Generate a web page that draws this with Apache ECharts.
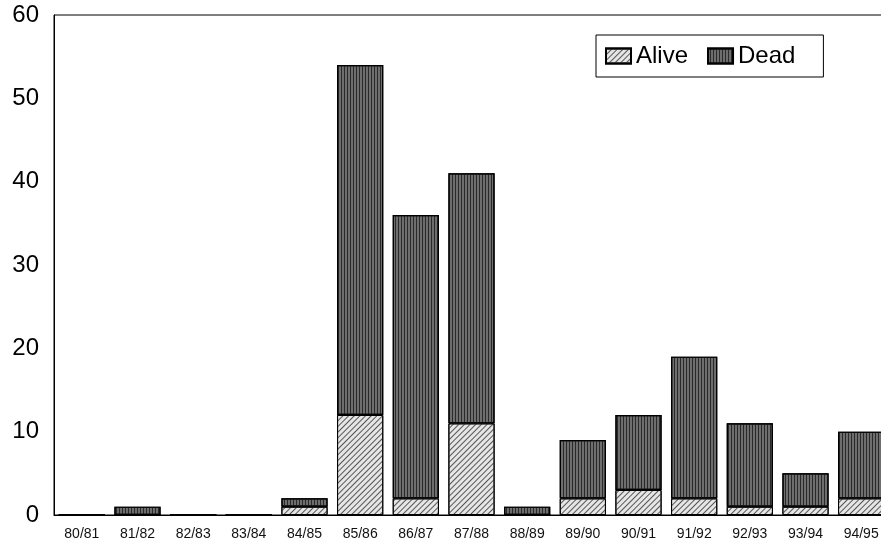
<!DOCTYPE html>
<html><head><meta charset="utf-8">
<script src="https://cdn.jsdelivr.net/npm/echarts@6/dist/echarts.min.js"></script>
<style>html,body{margin:0;padding:0;background:#fff}#c{width:881px;height:544px}</style>
</head><body><div id="c"></div>
<script>
const categories = ['80/81','81/82','82/83','83/84','84/85','85/86','86/87','87/88','88/89','89/90','90/91','91/92','92/93','93/94','94/95'];
const alive = [0,0,0,0,1,12,2,11,0,2,3,2,1,1,2];
const dead  = [0,1,0,0,1,42,34,30,1,7,9,17,10,4,8];
const yTicks = [0,10,20,30,40,50,60];

const chart = echarts.init(document.getElementById('c'));
chart.setOption({
  animation:false,
  backgroundColor:'#fff',
  grid:{left:54,top:15,width:835,height:500,show:true,borderColor:'#000',borderWidth:1,outerBoundsMode:'none',containLabel:false},
  legend:{
    left:596, top:35, padding:[9,28,9,9],
    borderColor:'#000', borderWidth:1,
    icon:'rect', itemWidth:25, itemHeight:15, itemGap:19,
    textStyle:{fontFamily:'Liberation Sans',fontSize:24,color:'#000'},
    data:['Alive','Dead']
  },
  xAxis:{type:'category',data:categories,
    axisLine:{lineStyle:{color:'#000'}},axisTick:{show:false},
    axisLabel:{fontFamily:'Liberation Sans',fontSize:14,color:'#111',margin:12,interval:0}},
  yAxis:{type:'value',min:0,max:60,interval:10,
    axisLine:{show:true,lineStyle:{color:'#000'}},axisTick:{show:false},splitLine:{show:false},
    axisLabel:{fontFamily:'Liberation Sans',fontSize:24,color:'#000',margin:15,
      formatter:v=>yTicks.includes(v)?String(v):''}},
  series:[
    {name:'Alive',type:'bar',stack:'s',data:alive,barCategoryGap:'17%',
     itemStyle:{color:'#e6e6e6',borderColor:'#000',borderWidth:1,
       decal:{symbol:'rect',symbolSize:1,dashArrayX:[1,0],dashArrayY:[1,3],rotation:-Math.PI/4,color:'#555'}}},
    {name:'Dead',type:'bar',stack:'s',data:dead,
     itemStyle:{color:'#6e6e6e',borderColor:'#000',borderWidth:1.2,
       decal:{symbol:'rect',symbolSize:1,dashArrayX:[1,0],dashArrayY:[1,2],rotation:Math.PI/2,color:'#2a2a2a'}}}
  ]
});
</script></body></html>
